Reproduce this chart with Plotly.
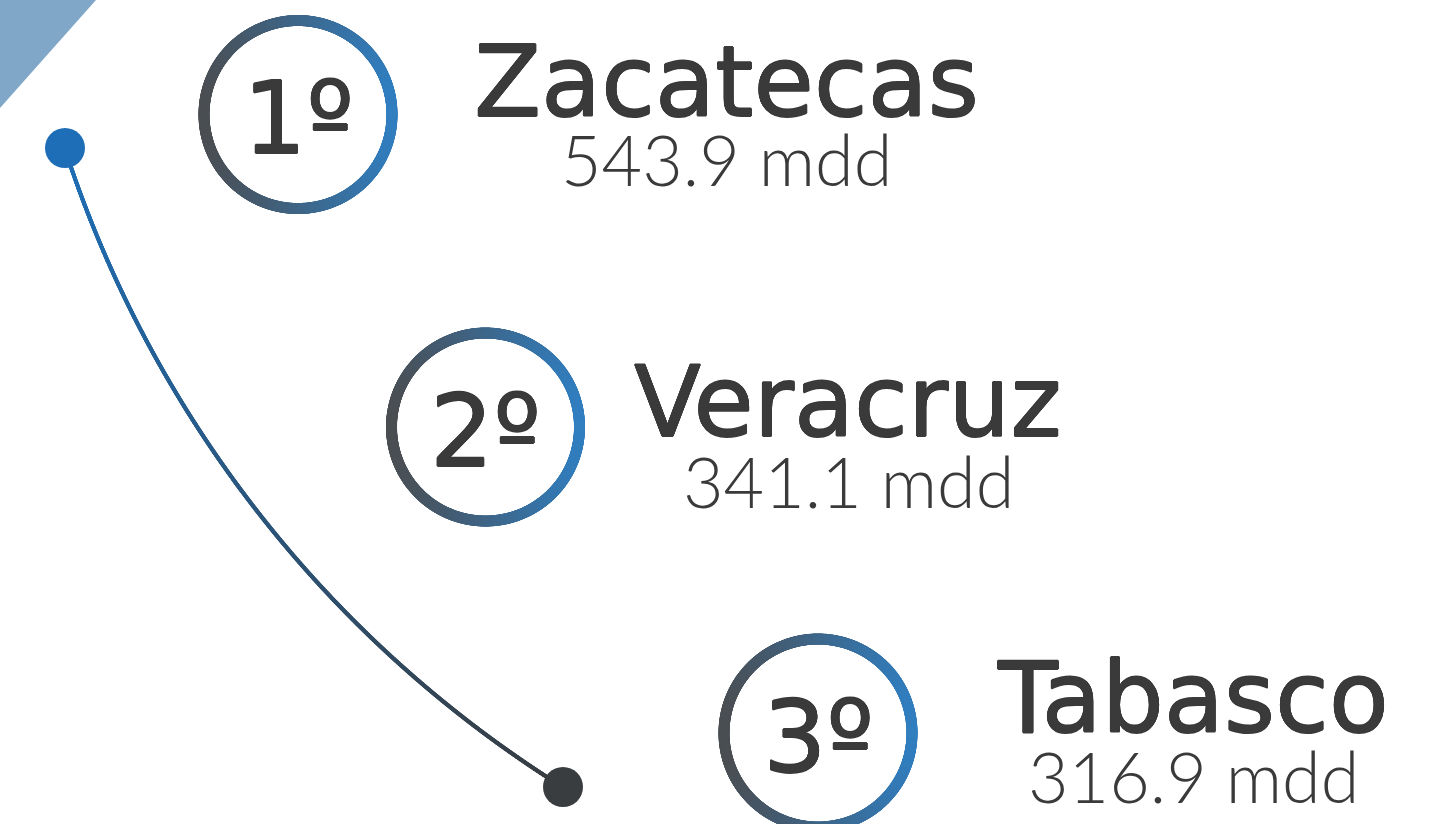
import numpy as np
import plotly.graph_objects as go

# ---- data ----
states = ["Zacatecas", "Veracruz", "Tabasco"]
values = [543.9, 341.1, 316.9]
ranks = ["1º", "2º", "3º"]
unit = "mdd"

# ---- layout / style ----
W, H = 1450, 824
circle_cx = [298, 485.5, 818]
circle_cy = [114.5, 427, 733]
circle_r = 94
ring_w = 11
name_cx = [726, 848, 1193]
name_base = [117, 437, 733]
val_base = [184, 506, 801]
name_fs = 98
val_fs = 70
rank_fs = 100
text_col = "#3a3a3a"
thick = ", ".join(f"{dx}px {dy}px 0 {text_col}" for dx, dy in
                  [(0.6, 0), (-0.6, 0), (0, 0.6), (0, -0.6), (0.45, 0.45), (-0.45, -0.45), (0.45, -0.45), (-0.45, 0.45)])
grad_left = np.array([76, 79, 83])
grad_right = np.array([50, 127, 192])
arc_c = (1192, -217)
arc_r = 1185

def rgb(c):
    c = np.clip(c, 0, 255).astype(int)
    return f"rgb({c[0]},{c[1]},{c[2]})"

fig = go.Figure()

# corner triangle
fig.add_trace(go.Scatter(x=[0, 96, 0, 0], y=[0, 0, 108, 0], fill="toself",
                         fillcolor="rgb(128,167,200)", line=dict(width=0),
                         mode="lines", hoverinfo="skip", showlegend=False))

# connecting arc with gradient
a0 = np.arctan2(148 - arc_c[1], 65 - arc_c[0])
a1 = np.arctan2(787 - arc_c[1], 563 - arc_c[0])
t = np.linspace(0, 1, 1600)
ang = a0 + (a1 - a0) * t
ax = arc_c[0] + arc_r * np.cos(ang)
ay = arc_c[1] + arc_r * np.sin(ang)
c_top = np.array([31, 112, 184])
c_bot = np.array([58, 62, 66])
cols = [rgb(c_top + (c_bot - c_top) * ti) for ti in t]
fig.add_trace(go.Scatter(x=ax, y=ay, mode="markers",
                         marker=dict(size=4, color=cols, line=dict(width=0)),
                         hoverinfo="skip", showlegend=False))
# end dots
fig.add_trace(go.Scatter(x=[65], y=[148], mode="markers",
                         marker=dict(size=40, color="rgb(30,110,183)", line=dict(width=0)),
                         hoverinfo="skip", showlegend=False))
fig.add_trace(go.Scatter(x=[563], y=[787], mode="markers",
                         marker=dict(size=40, color="rgb(58,61,64)", line=dict(width=0)),
                         hoverinfo="skip", showlegend=False))

# gradient rings
th = np.linspace(0, 2 * np.pi, 900)
for cx, cy in zip(circle_cx, circle_cy):
    xs = cx + circle_r * np.cos(th)
    ys = cy + circle_r * np.sin(th)
    f = (xs - (cx - circle_r)) / (2 * circle_r)
    cc = [rgb(grad_left + (grad_right - grad_left) * fi) for fi in f]
    fig.add_trace(go.Scatter(x=xs, y=ys, mode="markers",
                             marker=dict(size=ring_w, color=cc, line=dict(width=0)),
                             hoverinfo="skip", showlegend=False))

ann = []
for i in range(3):
    ann.append(dict(x=circle_cx[i], y=circle_cy[i] + 4, text=ranks[i], showarrow=False,
                    xanchor="center", yanchor="middle",
                    font=dict(family="DejaVu Sans", size=rank_fs, color=text_col, shadow=thick)))
    ann.append(dict(x=name_cx[i], y=name_base[i] - 0.36 * name_fs, text=states[i], showarrow=False,
                    xanchor="center", yanchor="middle",
                    font=dict(family="DejaVu Sans", size=name_fs, color=text_col, shadow=thick)))
    ann.append(dict(x=name_cx[i], y=val_base[i] - 0.36 * val_fs, text=f"{values[i]:.1f} {unit}",
                    showarrow=False, xanchor="center", yanchor="middle",
                    font=dict(family="Lato", size=val_fs, color=text_col, weight=300)))

fig.update_layout(width=W, height=H, margin=dict(l=0, r=0, t=0, b=0),
                  paper_bgcolor="white", plot_bgcolor="white",
                  xaxis=dict(range=[0, W], visible=False, fixedrange=True),
                  yaxis=dict(range=[H, 0], visible=False, fixedrange=True),
                  annotations=ann, showlegend=False)
fig.write_html("out.html", config={"displayModeBar": False},
               post_script="document.body.style.margin='0';")
